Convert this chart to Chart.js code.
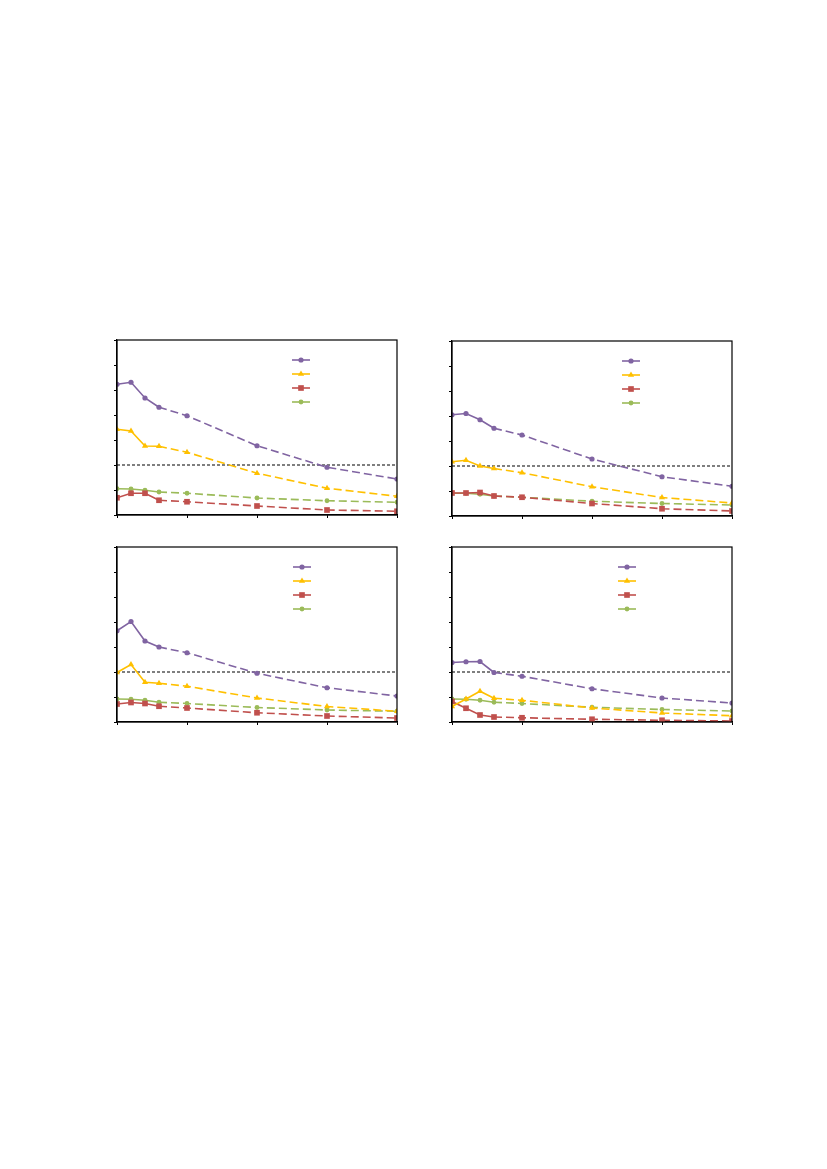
<!DOCTYPE html>
<html>
<head>
<meta charset="utf-8">
<script src="https://cdn.jsdelivr.net/npm/chart.js@4.4.0/dist/chart.umd.min.js"></script>
<style>
  body { margin: 0; background: #fff; }
  .box { position: absolute; }
</style>
</head>
<body>
<div class="box" id="b1" style="left:97px;top:335px;width:305px;height:195px"><canvas id="c1"></canvas></div>
<div class="box" id="b2" style="left:432px;top:336px;width:305px;height:195px"><canvas id="c2"></canvas></div>
<div class="box" id="b3" style="left:97px;top:542px;width:305px;height:195px"><canvas id="c3"></canvas></div>
<div class="box" id="b4" style="left:432px;top:542px;width:305px;height:195px"><canvas id="c4"></canvas></div>
<script>
// x positions shared by every panel
var xValues = [0, 1, 2, 3, 5, 10, 15, 20];
var xTicks = [0, 5, 10, 15, 20];
var yTicks = [0, 1, 2, 3, 4, 5, 6, 7];
var refLevel = 2;

// panel 1
var p1Purple = [5.23, 5.31, 4.68, 4.31, 3.97, 2.77, 1.91, 1.44];
var p1Yellow = [3.43, 3.36, 2.76, 2.75, 2.51, 1.67, 1.07, 0.75];
var p1Red    = [0.69, 0.87, 0.87, 0.59, 0.53, 0.36, 0.20, 0.15];
var p1Green  = [1.05, 1.04, 0.99, 0.92, 0.87, 0.68, 0.57, 0.51];

// panel 2
var p2Purple = [4.05, 4.10, 3.85, 3.51, 3.24, 2.28, 1.57, 1.19];
var p2Yellow = [2.17, 2.23, 2.00, 1.90, 1.73, 1.17, 0.74, 0.52];
var p2Red    = [0.92, 0.92, 0.94, 0.80, 0.75, 0.50, 0.29, 0.20];
var p2Green  = [0.91, 0.91, 0.87, 0.80, 0.75, 0.59, 0.50, 0.44];

// panel 3
var p3Purple = [3.65, 4.02, 3.24, 3.00, 2.77, 1.95, 1.37, 1.04];
var p3Yellow = [1.98, 2.30, 1.59, 1.55, 1.43, 0.96, 0.62, 0.43];
var p3Red    = [0.72, 0.78, 0.74, 0.63, 0.56, 0.37, 0.24, 0.16];
var p3Green  = [0.92, 0.91, 0.87, 0.79, 0.74, 0.58, 0.48, 0.43];

// panel 4
var p4Purple = [2.38, 2.41, 2.42, 1.98, 1.83, 1.33, 0.96, 0.76];
var p4Yellow = [0.62, 0.92, 1.23, 0.95, 0.87, 0.56, 0.36, 0.25];
var p4Red    = [0.82, 0.55, 0.28, 0.20, 0.17, 0.11, 0.07, 0.04];
var p4Green  = [0.92, 0.91, 0.87, 0.79, 0.74, 0.59, 0.50, 0.44];

var purple = "#8064A2", yellow = "#FFC000", red = "#C0504D", green = "#9BBB59";

function pts(vals) {
    return vals.map(function (v, i) { return { x: xValues[i], y: v }; });
}

function series(vals, color, style, radius) {
    return {
        data: pts(vals),
        borderColor: color,
        backgroundColor: color,
        borderWidth: 1.6,
        pointStyle: style,
        pointRadius: radius,
        pointBorderWidth: 0,
        pointHoverRadius: radius,
        segment: {
            // solid for the first points, dashed afterwards
            borderDash: function (ctx) { return ctx.p0.parsed.x >= 3 ? [8, 4] : undefined; }
        }
    };
}

// draws the box round the plot and the (text-less) legend
var framePlugin = {
    id: "frame",
    afterDraw: function (chart) {
        var a = chart.chartArea, c = chart.ctx;
        c.save();
        c.strokeStyle = "#000";
        c.lineWidth = 1.2;
        c.strokeRect(a.left, a.top, a.right - a.left, a.bottom - a.top);
        var lx = a.left + chart.options.plugins.frame.legendX;
        chart.data.datasets.slice(0, 4).forEach(function (ds, i) {
            var ly = a.top + 20 + i * 14;
            c.strokeStyle = ds.borderColor;
            c.lineWidth = 1.6;
            c.setLineDash([]);
            c.beginPath();
            c.moveTo(lx, ly);
            c.lineTo(lx + 18, ly);
            c.stroke();
            c.fillStyle = ds.backgroundColor;
            Chart.helpers.drawPoint(c, { pointStyle: ds.pointStyle, radius: ds.pointRadius, borderWidth: 0 }, lx + 9, ly);
        });
        c.restore();
    }
};

function makeChart(id, purpleVals, yellowVals, redVals, greenVals, legendX) {
    new Chart(document.getElementById(id), {
        type: "line",
        data: {
            datasets: [
                series(purpleVals, purple, "circle", 2.6),
                series(yellowVals, yellow, "triangle", 3.6),
                series(redVals, red, "rect", 4),
                series(greenVals, green, "circle", 2.4),
                {
                    data: [{ x: xTicks[0], y: refLevel }, { x: xTicks[xTicks.length - 1], y: refLevel }],
                    borderColor: "#000",
                    borderWidth: 1.2,
                    borderDash: [3, 2],
                    pointRadius: 0
                }
            ]
        },
        options: {
            responsive: true,
            maintainAspectRatio: false,
            animation: false,
            layout: { padding: { top: 5, right: 5, left: 0, bottom: 0 } },
            plugins: {
                legend: { display: false },
                tooltip: { enabled: false },
                frame: { legendX: legendX }
            },
            scales: {
                x: {
                    type: "linear",
                    min: xTicks[0],
                    max: xTicks[xTicks.length - 1],
                    afterBuildTicks: function (s) { s.ticks = xTicks.map(function (v) { return { value: v }; }); },
                    ticks: { display: false },
                    grid: { drawOnChartArea: false, drawTicks: true, tickLength: 3, color: "#000" },
                    border: { color: "#000", width: 1.2 },
                    afterFit: function (s) { s.height = 15; }
                },
                y: {
                    min: yTicks[0],
                    max: yTicks[yTicks.length - 1],
                    afterBuildTicks: function (s) { s.ticks = yTicks.map(function (v) { return { value: v }; }); },
                    ticks: { display: false },
                    grid: { drawOnChartArea: false, drawTicks: true, tickLength: 3, color: "#000" },
                    border: { color: "#000", width: 1.2 },
                    afterFit: function (s) { s.width = 20; }
                }
            }
        },
        plugins: [framePlugin]
    });
}

makeChart("c1", p1Purple, p1Yellow, p1Red, p1Green, 175);
makeChart("c2", p2Purple, p2Yellow, p2Red, p2Green, 170);
makeChart("c3", p3Purple, p3Yellow, p3Red, p3Green, 176);
makeChart("c4", p4Purple, p4Yellow, p4Red, p4Green, 166);
</script>
</body>
</html>
